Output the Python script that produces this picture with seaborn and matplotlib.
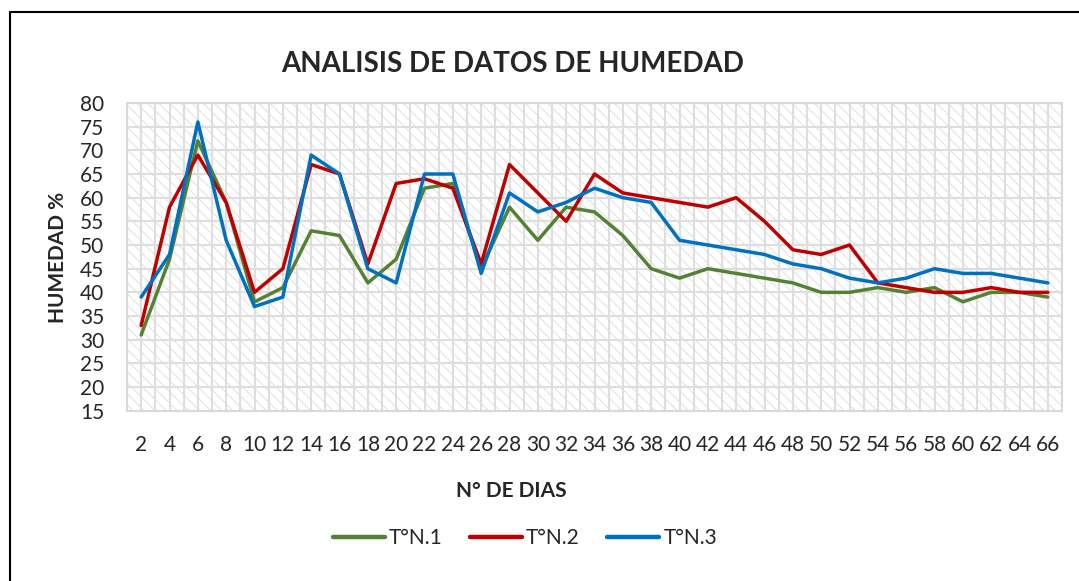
import numpy as np
import pandas as pd
import matplotlib
matplotlib.use("Agg")
import matplotlib.pyplot as plt
from matplotlib.patches import Rectangle
from matplotlib.lines import Line2D
import seaborn as sns

# ---- data ----
dias = list(range(2, 67, 2))
t1 = [31, 47, 72, 59, 38, 41, 53, 52, 42, 47, 62, 63, 45, 58, 51, 58, 57,
      52, 45, 43, 45, 44, 43, 42, 40, 40, 41, 40, 41, 38, 40, 40, 39]
t2 = [33, 58, 69, 59, 40, 45, 67, 65, 46, 63, 64, 62, 46, 67, 61, 55, 65,
      61, 60, 59, 58, 60, 55, 49, 48, 50, 42, 41, 40, 40, 41, 40, 40]
t3 = [39, 48, 76, 51, 37, 39, 69, 65, 45, 42, 65, 65, 44, 61, 57, 59, 62,
      60, 59, 51, 50, 49, 48, 46, 45, 43, 42, 43, 45, 44, 44, 43, 42]
series_names = ["T°N.1", "T°N.2", "T°N.3"]
colors = ["#548235", "#C00000", "#0070C0"]
y_ticks = list(range(15, 81, 5))

df = pd.DataFrame({
    "dia": dias * 3,
    "humedad": t1 + t2 + t3,
    "serie": [series_names[0]] * len(dias) + [series_names[1]] * len(dias) + [series_names[2]] * len(dias),
})

sns.set_style("white")
plt.rcParams["font.family"] = ["Lato", "DejaVu Sans"]
plt.rcParams["hatch.linewidth"] = 0.7
plt.rcParams["hatch.color"] = "#e0e0e0"

W, H = 1079, 581
fig = plt.figure(figsize=(W / 100, H / 100), dpi=100)
ax = fig.add_axes([127 / W, 1 - 410.7 / H, (1062 - 127) / W, (410.7 - 103) / H])

# hatched background
bg = Rectangle((0, 0), 1, 1, transform=ax.transAxes, facecolor="white",
               edgecolor="#e0e0e0", hatch="\\\\\\", lw=0, zorder=0.1)
ax.add_patch(bg)

sns.lineplot(data=df, x="dia", y="humedad", hue="serie", palette=colors,
             linewidth=2.5, ax=ax, zorder=3)

ax.set_xlim(1, 67)
ax.set_ylim(15, 80)
ax.set_xticks(dias)
ax.set_xticklabels([str(d) for d in dias])
ax.set_xticks(np.arange(1, 68, 2), minor=True)
ax.set_yticks(y_ticks)
ax.set_axisbelow(True)
ax.grid(True, which="major", axis="both", color="#dedede", lw=1.5, zorder=0.5)
ax.grid(True, which="minor", axis="x", color="#dedede", lw=1.5, zorder=0.5)
ax.tick_params(axis="both", which="both", length=0)
ax.tick_params(axis="y", pad=16.5, labelsize=15)
ax.tick_params(axis="x", pad=17.5, labelsize=15)
for s in ax.spines.values():
    s.set_color("#d9d9d9")
    s.set_linewidth(1.5)
ax.set_xlabel("")
ax.set_ylabel("")

# texts
fig.text(513 / W, 1 - 64.5 / H, "ANALISIS DE DATOS DE HUMEDAD", ha="center",
         va="center", fontsize=20, fontweight="bold")
fig.text(58.5 / W, 1 - 257.5 / H, "HUMEDAD %", ha="center", va="center",
         rotation=90, fontsize=15, fontweight="bold")
fig.text(511 / W, 1 - 491 / H, "N° DE DIAS", ha="center", va="center",
         fontsize=15, fontweight="bold")

sns.move_legend(ax, "center", bbox_to_anchor=(525 / W, 1 - 538 / H),
                bbox_transform=fig.transFigure, ncol=3, frameon=False,
                title=None, fontsize=15, handlelength=2.5, handletextpad=0.2,
                columnspacing=1.3)
for h in ax.get_legend().get_lines():
    h.set_linewidth(3.2)

# outer chart border (partially cropped in reference)
fig.add_artist(Line2D([10 / W, 10 / W], [0, 1 - 12 / H], color="black", lw=1.5,
                      transform=fig.transFigure))
fig.add_artist(Line2D([10 / W, 1], [1 - 12 / H, 1 - 12 / H], color="black", lw=1.5,
                      transform=fig.transFigure))

fig.savefig("out.png", dpi=100)
